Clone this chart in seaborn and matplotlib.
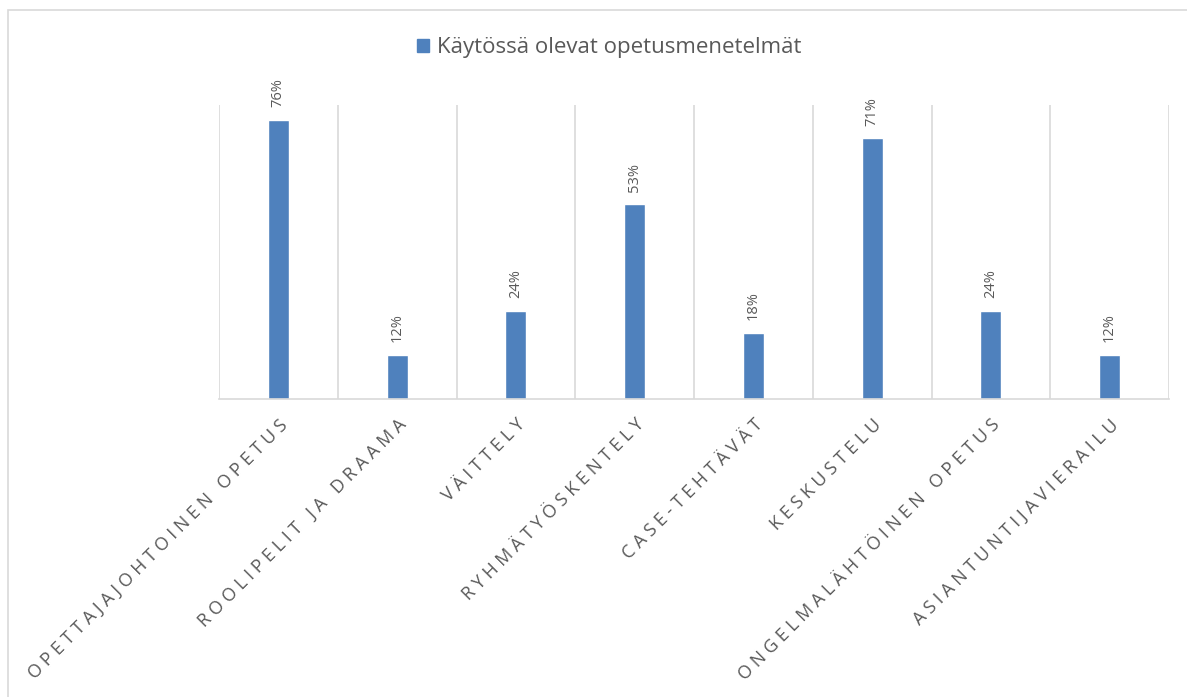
import matplotlib
matplotlib.use("Agg")
import matplotlib.pyplot as plt
from matplotlib.patches import Rectangle, Patch
import seaborn as sns
import pandas as pd

categories = [
    "OPETTAJAJOHTOINEN OPETUS",
    "ROOLIPELIT JA DRAAMA",
    "VÄITTELY",
    "RYHMÄTYÖSKENTELY",
    "CASE-TEHTÄVÄT",
    "KESKUSTELU",
    "ONGELMALÄHTÖINEN OPETUS",
    "ASIANTUNTIJAVIERAILU",
]
values = [0.76, 0.12, 0.24, 0.53, 0.18, 0.71, 0.24, 0.12]
series_name = "Käytössä olevat opetusmenetelmät"

BAR = "#4F81BD"
GRID = "#D9D9D9"
TEXT = "#595959"

sns.set_theme(style="white")
plt.rcParams["font.family"] = ["Open Sans", "DejaVu Sans"]

df = pd.DataFrame({"method": categories, "share": values})

fig = plt.figure(figsize=(11.87, 6.97), dpi=100)
ax = fig.add_axes([219 / 1187, 1 - 399 / 697, 950 / 1187, 294 / 697])

sns.barplot(data=df, x="method", y="share", color=BAR, width=0.175,
            saturation=1, ax=ax)

ax.set_ylim(0, 0.8)
ax.set_xlim(-0.5, len(categories) - 0.5)
ax.set_yticks([])
ax.set_xlabel("")
ax.set_ylabel("")

# vertical gridlines between categories
ax.set_xticks([i + 0.5 for i in range(-1, len(categories))], minor=True)
ax.grid(True, which="minor", axis="x", color=GRID, linewidth=1.2)
ax.tick_params(axis="x", which="both", length=0)
for side in ("top", "right", "left"):
    ax.spines[side].set_visible(False)
ax.spines["bottom"].set_color(GRID)
ax.spines["bottom"].set_linewidth(1.2)


def spaced(text):
    return " ".join(text)


ax.set_xticks(range(len(categories)))
ax.set_xticklabels([spaced(c) for c in categories], rotation=45, ha="right",
                   rotation_mode="anchor", fontsize=13, color=TEXT)
ax.tick_params(axis="x", which="major", pad=12)

# value labels above the bars
for i, v in enumerate(values):
    ax.annotate(f"{v:.0%}", xy=(i, v), xytext=(0, 9), textcoords="offset points",
                rotation=90, ha="center", va="bottom", fontsize=10.5, color=TEXT)

handle = Patch(facecolor=BAR, edgecolor=BAR)
fig.legend([handle], [series_name], loc="center", bbox_to_anchor=(609 / 1187, 1 - 48 / 697),
           frameon=False, fontsize=16, labelcolor=TEXT, handlelength=0.55,
           handleheight=0.55, handletextpad=0.35)

# chart area frame
fig.patches.append(Rectangle((8 / 1187, -0.1), 1.2, 1 - 10 / 697 + 0.1,
                             transform=fig.transFigure, fill=False,
                             edgecolor=GRID, linewidth=1.2))

fig.savefig("out.png", dpi=100, facecolor="white")
